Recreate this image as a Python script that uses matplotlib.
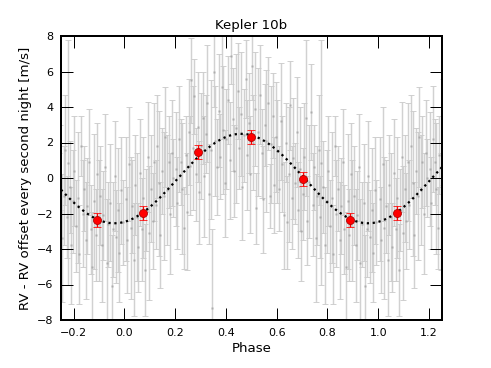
import matplotlib
matplotlib.use('Agg')
import matplotlib.pyplot as plt
import numpy as np

# folded radial velocities (phase, rv [m/s], error [m/s])
phase_obs = [
    0.005, 0.012, 0.018, 0.024, 0.031, 0.037, 0.043, 0.049, 0.055, 0.061, 0.068, 0.074, 0.080, 0.086, 0.092, 0.097,
    0.104, 0.111, 0.117, 0.123, 0.130, 0.136, 0.142, 0.149, 0.155, 0.161, 0.168, 0.174, 0.181, 0.187, 0.193,
    0.203, 0.209, 0.216, 0.222, 0.228, 0.236, 0.241, 0.247, 0.254, 0.260, 0.264, 0.270, 0.276, 0.283, 0.289, 0.295,
    0.302, 0.308, 0.314, 0.321, 0.327, 0.333, 0.340, 0.346, 0.352, 0.358, 0.365, 0.371, 0.377, 0.384, 0.390, 0.396,
    0.402, 0.408, 0.415, 0.420, 0.427, 0.433, 0.439, 0.446, 0.452, 0.458, 0.465, 0.471, 0.477, 0.484, 0.490, 0.496,
    0.502, 0.508, 0.515, 0.520, 0.527, 0.534, 0.540, 0.546, 0.553, 0.559, 0.565, 0.575, 0.578, 0.584, 0.591, 0.597,
    0.603, 0.609, 0.616, 0.622, 0.628, 0.635, 0.640, 0.647, 0.653, 0.660, 0.666, 0.672, 0.679, 0.685, 0.691, 0.697,
    0.703, 0.709, 0.715, 0.721, 0.728, 0.736, 0.741, 0.747, 0.754, 0.760, 0.766, 0.772, 0.776, 0.784, 0.790, 0.797,
    0.803, 0.809, 0.816, 0.822, 0.830, 0.835, 0.841, 0.848, 0.854, 0.860, 0.867, 0.873, 0.879, 0.886, 0.892, 0.898,
    0.904, 0.911, 0.917, 0.923, 0.930, 0.936, 0.942, 0.949, 0.955, 0.961, 0.968, 0.974, 0.980, 0.986, 0.993,
]
rv_obs = [
    -1.2, -3.5, 0.8, -2.8, -1.6, -4.6, -0.4, -2.2, -3.9, 0.3, -2.9, -1.1, -5.2, -1.8, 1.2, -3.1,
    -0.6, -2.4, 0.9, -1.5, 1.8, -0.3, -3.2, 0.4, -1.0, 2.3, -0.7, 0.9, -2.0, 1.4, 0.0,
    0.5, -1.4, 2.2, 0.9, -0.6, -2.8, 1.3, -1.9, 2.6, 0.7, 5.5, 1.7, 4.6, 0.2, 2.9, -0.8,
    1.8, 3.4, 0.1, 2.5, 4.2, -0.9, 1.6, -7.3, 6.0, 2.1, 0.6, 3.8, 1.2, 5.1, 2.7, -0.3,
    2.2, 4.4, 1.0, 6.9, 3.3, 0.4, 2.8, 4.9, 1.7, 3.6, -0.5, 2.4, 5.6, 1.3, 3.1, 0.2,
    6.3, 2.0, 3.9, -1.7, 2.6, 4.7, 1.4, -1.2, 3.0, 2.1, 4.2, -1.0, 1.9, 3.5, -0.4, 2.3,
    1.5, -0.6, 3.2, 0.8, -2.1, 2.0, -2.5, 0.2, 4.1, -1.1, 1.1, -0.3, 2.6, -1.8, 0.5, -3.0,
    -0.9, 1.2, 3.4, -2.4, -0.2, 3.7, -1.5, 0.6, -3.4, -1.0, 1.6, -2.2, 0.85, -0.5, -3.8, -1.3,
    0.4, -2.7, -1.1, -4.3, 1.8, -2.0, -0.6, -3.5, -1.6, 0.9, -2.9, -5.0, -1.3, -3.2, 0.2, -2.4,
    -1.0, -3.8, -2.1, 0.6, -4.8, -2.6, -1.4, -6.1, -2.9, 0.1, -3.3, -1.8, -4.2, -0.7, -2.5,
]
rv_err = [
    3.5, 3.0, 3.2, 4.0, 2.6, 3.2, 2.8, 3.6, 2.5, 3.0, 2.9, 3.4, 2.6, 2.3, 3.1, 3.8,
    3.0, 2.7, 3.3, 2.5, 2.9, 4.1, 3.0, 2.4, 3.6, 2.8, 3.1, 2.6, 3.4, 3.0, 2.2,
    3.2, 2.6, 3.0, 2.4, 3.7, 2.3, 2.2, 3.3, 3.0, 2.8, 2.4, 3.5, 2.1, 2.6, 3.1, 2.9,
    3.0, 2.6, 3.4, 2.2, 3.3, 2.8, 3.9, 4.4, 2.0, 3.1, 2.7, 3.2, 2.4, 2.9, 3.6, 3.0,
    2.8, 2.5, 3.3, 1.6, 2.9, 2.6, 4.2, 2.7, 2.3, 3.5, 3.0, 2.6, 2.2, 3.1, 2.8, 3.3,
    1.9, 2.7, 3.2, 2.0, 3.6, 2.8, 2.5, 3.0, 2.3, 4.0, 2.6, 1.8, 3.3, 2.4, 2.7, 3.1,
    2.9, 2.4, 3.3, 2.7, 3.0, 2.2, 2.6, 3.8, 2.5, 2.9, 3.4, 2.3, 3.1, 2.7, 3.5, 2.8,
    2.6, 3.0, 4.4, 2.5, 3.2, 2.7, 2.9, 2.4, 3.6, 2.8, 3.1, 2.3, 6.9, 2.6, 3.3, 2.9,
    3.1, 2.6, 3.7, 2.8, 1.7, 3.0, 2.4, 3.3, 2.7, 3.0, 2.5, 3.1, 3.8, 2.6, 2.9, 3.4,
    2.8, 3.2, 2.5, 3.0, 3.6, 2.4, 3.3, 2.9, 2.7, 3.1, 2.6, 3.5, 2.8, 3.0, 2.4,
]

# binned values
bin_phase = [0.075, 0.29, 0.50, 0.705, 0.89]
bin_rv = [-1.95, 1.45, 2.3, -0.05, -2.37]
bin_err = [0.4, 0.4, 0.4, 0.4, 0.4]

# circular orbit fit
K = 2.52
phase_min = -0.04
rv_offset = -0.03

xmin, xmax = -0.25, 1.25


def wrap(ph, *vals):
    ph = np.asarray(ph)
    out_ph, out_vals = [], [[] for _ in vals]
    for shift in (-1, 0, 1):
        p = ph + shift
        m = (p >= xmin - 0.01) & (p <= xmax + 0.01)
        out_ph.append(p[m])
        for i, v in enumerate(vals):
            out_vals[i].append(np.asarray(v)[m])
    return [np.concatenate(out_ph)] + [np.concatenate(v) for v in out_vals]


def main():
    plt.rcParams['font.family'] = 'DejaVu Sans'
    fig = plt.figure(figsize=(491 / 80, 368 / 80), dpi=80)
    ax = fig.add_axes([61 / 491, 1 - 320 / 368, (441.7 - 61) / 491, (320 - 36) / 368])

    ph, rv, err = wrap(phase_obs, rv_obs, rv_err)
    ax.errorbar(ph, rv, yerr=err, fmt='s', color='#c6c6c6', ecolor='#cccccc',
                alpha=0.9, ms=2.6, mec='none', mfc='#a8a8a8',
                elinewidth=1.3, capsize=2.8, capthick=0.9, zorder=1)

    x = np.linspace(xmin, xmax, 400)
    y = -K * np.cos(2 * np.pi * (x - phase_min)) + rv_offset
    ax.plot(x, y, 'k:', lw=2, zorder=2)

    bph, brv, berr = wrap(bin_phase, bin_rv, bin_err)
    ax.errorbar(bph, brv, yerr=berr, fmt='o', color='red', ms=7.2,
                mec='#aa0000', mew=0.7, elinewidth=1.1, capsize=3.2, zorder=3)

    ax.set_xlim(xmin, xmax)
    ax.set_ylim(-8, 8)
    ax.set_xticks(np.arange(-0.2, 1.21, 0.2))
    ax.set_yticks(np.arange(-8, 9, 2))
    ax.tick_params(direction='in', top=True, right=True, length=11,
                   width=0.9, labelsize=10, pad=7)
    for s in ax.spines.values():
        s.set_linewidth(1.8)

    ax.set_xlabel('Phase', fontsize=12)
    ax.set_ylabel('RV - RV offset every second night [m/s]', fontsize=12)
    ax.set_title('Kepler 10b', fontsize=12)

    fig.savefig('out.png', dpi=80)


if __name__ == '__main__':
    main()
